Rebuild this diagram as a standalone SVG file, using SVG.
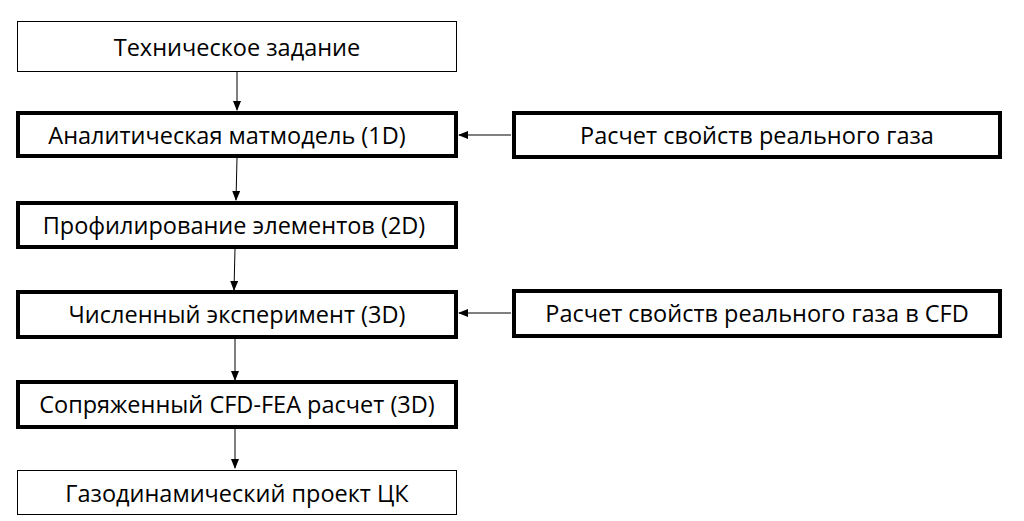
<svg xmlns="http://www.w3.org/2000/svg" width="1024" height="521" viewBox="0 0 1024 521">
<defs>
<marker id="a" markerWidth="10" markerHeight="8" refX="9" refY="4" orient="auto" markerUnits="userSpaceOnUse"><path d="M0,0 L10,4 L0,8 z" fill="#000"/></marker>
<style>
.thin{fill:#fff;stroke:#000;stroke-width:1}
.thick{fill:#fff;stroke:#000;stroke-width:4}
text{font-family:"Open Sans","Liberation Sans",sans-serif;font-size:23.5px;text-anchor:middle;dominant-baseline:central;fill:#000}
.c{stroke:#000;stroke-width:1;fill:none;marker-end:url(#a)}
</style>
</defs>
<rect width="1024" height="521" fill="#fff"/>
<g id="connectors">
<line class="c" x1="237" y1="72" x2="237" y2="110"/>
<line class="c" x1="237" y1="158" x2="236" y2="200"/>
<line class="c" x1="235" y1="249" x2="234" y2="290"/>
<line class="c" x1="235" y1="339" x2="235" y2="380"/>
<line class="c" x1="235" y1="429" x2="235" y2="468"/>
<line class="c" x1="511" y1="135" x2="459" y2="135"/>
<line class="c" x1="511" y1="313" x2="459" y2="313"/>
</g>
<g id="n1"><rect class="thin" x="17.5" y="21.5" width="439" height="50"/><text x="237" y="47">Техническое задание</text></g>
<g id="n2"><rect class="thick" x="18" y="113" width="438" height="43"/><text x="227" y="135">Аналитическая матмодель (1D)</text></g>
<g id="n3"><rect class="thick" x="514" y="113" width="486" height="44"/><text x="757" y="135">Расчет свойств реального газа</text></g>
<g id="n4"><rect class="thick" x="18" y="203" width="438" height="44"/><text x="234" y="225">Профилирование элементов (2D)</text></g>
<g id="n5"><rect class="thick" x="18" y="292" width="438" height="45"/><text x="237" y="314">Численный эксперимент (3D)</text></g>
<g id="n6"><rect class="thick" x="514" y="291" width="486" height="45"/><text x="757" y="313">Расчет свойств реального газа в CFD</text></g>
<g id="n7"><rect class="thick" x="18" y="382" width="438" height="45"/><text x="237" y="404">Сопряженный CFD-FEA расчет (3D)</text></g>
<g id="n8"><rect class="thin" x="17.5" y="470.5" width="439" height="44"/><text x="237" y="493">Газодинамический проект ЦК</text></g>
</svg>
